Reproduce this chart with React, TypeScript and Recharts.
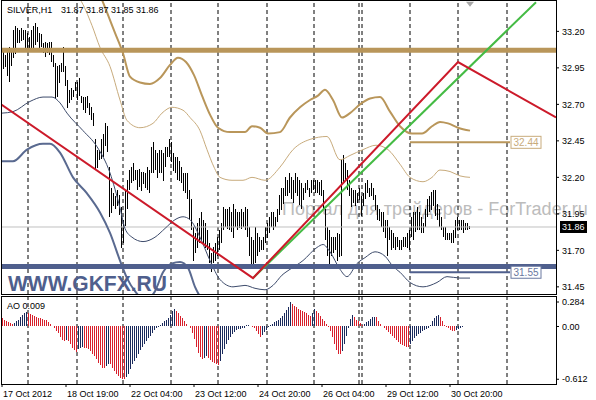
import { ComposedChart, Bar, Line, XAxis, YAxis, ReferenceLine, ReferenceDot } from 'recharts';

// H1 bars, one per hour (high / low)
const highs = [
  33.05, 33.07, 33.04, 33.07, 33.09, 33.07, 33.21, 33.24, 33.22, 33.21,
  33.22, 33.21, 33.21, 33.19, 33.16, 33.21, 33.24, 33.26, 33.23, 33.19,
  33.18, 33.12, 33.13, 33.12, 33.13, 33.13, 33.04, 32.98, 32.96, 32.97,
  32.98, 33.09, 32.96, 32.87, 32.80, 32.81, 32.80, 32.85, 32.85, 32.88,
  32.76, 32.75, 32.75, 32.76, 32.71, 32.68, 32.64, 32.46, 32.39, 32.39,
  32.46, 32.50, 32.57, 32.55, 32.27, 32.13, 32.09, 32.07, 32.11, 32.08,
  32.00, 31.91, 32.11, 32.18, 32.25, 32.27, 32.30, 32.25, 32.25, 32.26,
  32.24, 32.24, 32.23, 32.27, 32.25, 32.41, 32.44, 32.39, 32.37, 32.39,
  32.39, 32.37, 32.41, 32.41, 32.46, 32.44, 32.37, 32.34, 32.34, 32.31,
  32.27, 32.23, 32.23, 32.23, 32.11, 32.05, 31.86, 31.82, 31.89, 31.92,
  31.96, 31.91, 31.89, 31.84, 31.75, 31.68, 31.72, 31.75, 31.79, 31.84,
  31.89, 32.00, 31.98, 31.98, 32.00, 31.96, 32.02, 31.98, 31.96, 31.96,
  31.98, 31.96, 32.00, 31.98, 31.86, 31.79, 31.77, 31.86, 31.82, 31.79,
  31.77, 31.79, 31.86, 31.89, 31.93, 31.96, 31.96, 31.93, 31.98, 32.08,
  32.13, 32.13, 32.20, 32.18, 32.23, 32.20, 32.18, 32.23, 32.20, 32.18,
  32.16, 32.13, 32.16, 32.18, 32.13, 32.18, 32.18, 32.18, 32.18, 32.17,
  32.18, 32.11, 31.98, 31.86, 31.84, 31.79, 31.79, 31.79, 31.82, 31.81,
  32.32, 32.35, 32.30, 32.25, 32.18, 32.13, 32.11, 32.11, 32.09, 32.13,
  32.07, 32.09, 32.16, 32.18, 32.13, 32.16, 32.13, 32.08, 32.01, 31.98,
  31.96, 31.96, 31.91, 31.91, 31.86, 31.84, 31.82, 31.79, 31.79, 31.77,
  31.77, 31.79, 31.79, 31.82, 31.84, 31.93, 31.96, 31.96, 32.00, 31.96,
  31.93, 31.89, 31.98, 32.05, 32.07, 32.10, 32.11, 32.11, 32.02, 31.98,
  31.93, 31.86, 31.86, 31.82, 31.82, 31.82, 31.84, 31.91, 31.93, 31.91,
  31.91, 31.91, 31.89, 31.89, 31.87,
];

const lows = [
  32.92, 32.94, 32.96, 32.89, 32.85, 32.96, 33.02, 33.05, 33.12, 33.12,
  33.13, 33.14, 33.09, 33.09, 33.07, 33.06, 33.09, 33.11, 33.13, 33.07,
  33.09, 33.05, 33.03, 33.05, 33.04, 32.99, 32.96, 32.73, 32.75, 32.85,
  32.92, 32.92, 32.82, 32.68, 32.71, 32.73, 32.75, 32.79, 32.73, 32.76,
  32.71, 32.66, 32.64, 32.68, 32.63, 32.59, 32.55, 32.25, 32.27, 32.32,
  32.32, 32.34, 32.41, 32.37, 31.93, 31.96, 32.00, 31.98, 32.00, 31.94,
  31.72, 31.75, 31.86, 31.98, 32.11, 32.16, 32.18, 32.18, 32.11, 32.14,
  32.11, 32.16, 32.13, 32.11, 32.09, 32.23, 32.23, 32.25, 32.20, 32.23,
  32.23, 32.18, 32.27, 32.34, 32.34, 32.30, 32.25, 32.23, 32.18, 32.17,
  32.16, 32.11, 32.09, 32.05, 31.91, 31.84, 31.63, 31.68, 31.72, 31.75,
  31.77, 31.75, 31.72, 31.70, 31.61, 31.55, 31.61, 31.63, 31.66, 31.70,
  31.75, 31.84, 31.86, 31.84, 31.84, 31.82, 31.79, 31.86, 31.84, 31.85,
  31.84, 31.86, 31.84, 31.79, 31.66, 31.57, 31.59, 31.61, 31.66, 31.69,
  31.70, 31.70, 31.75, 31.79, 31.82, 31.86, 31.84, 31.86, 31.89, 31.94,
  31.98, 32.02, 32.07, 32.07, 32.09, 32.05, 32.02, 32.09, 32.07, 32.01,
  31.98, 32.05, 32.09, 32.11, 32.07, 32.09, 32.11, 32.09, 32.09, 32.08,
  32.07, 31.98, 31.77, 31.66, 31.59, 31.66, 31.68, 31.70, 31.63, 31.65,
  31.66, 32.16, 32.18, 32.11, 32.07, 32.00, 32.02, 32.00, 32.02, 32.05,
  31.93, 32.00, 32.05, 32.09, 32.07, 32.07, 32.05, 31.98, 31.91, 31.90,
  31.86, 31.82, 31.79, 31.66, 31.77, 31.70, 31.72, 31.70, 31.72, 31.70,
  31.70, 31.72, 31.72, 31.72, 31.70, 31.79, 31.77, 31.82, 31.84, 31.84,
  31.82, 31.82, 31.86, 31.93, 31.96, 31.98, 32.00, 31.93, 31.91, 31.86,
  31.84, 31.79, 31.77, 31.77, 31.77, 31.75, 31.75, 31.79, 31.84, 31.84,
  31.84, 31.82, 31.84, 31.84, 31.85,
];

// Awesome Oscillator, same bars
const aoValues = [
  0.097, 0.081, 0.066, 0.050, 0.035, 0.027, 0.039, 0.058, 0.081, 0.105,
  0.128, 0.151, 0.163, 0.159, 0.144, 0.132, 0.120, 0.109, 0.101, 0.097,
  0.089, 0.081, 0.070, 0.050, 0.027, 0.004, -0.019, -0.050, -0.081, -0.120,
  -0.159, -0.167, -0.159, -0.167, -0.206, -0.244, -0.275, -0.291, -0.264, -0.244,
  -0.237, -0.244, -0.252, -0.264, -0.283, -0.314, -0.341, -0.380, -0.419, -0.450,
  -0.477, -0.485, -0.458, -0.431, -0.438, -0.477, -0.516, -0.547, -0.574, -0.594,
  -0.605, -0.612, -0.590, -0.555, -0.497, -0.438, -0.400, -0.361, -0.314, -0.275,
  -0.237, -0.198, -0.167, -0.136, -0.105, -0.074, -0.043, -0.019, -0.004, 0.019,
  0.043, 0.066, 0.081, 0.097, 0.136, 0.182, 0.202, 0.182, 0.151, 0.124,
  0.097, 0.058, 0.027, 0.004, -0.019, -0.070, -0.147, -0.237, -0.303, -0.353,
  -0.380, -0.361, -0.345, -0.361, -0.384, -0.407, -0.423, -0.438, -0.446, -0.400,
  -0.322, -0.264, -0.206, -0.159, -0.120, -0.089, -0.066, -0.043, -0.031, -0.027,
  -0.019, -0.012, 0.012, 0.019, 0.004, -0.004, -0.019, -0.050, -0.089, -0.120,
  -0.097, -0.066, -0.035, -0.004, 0.012, 0.027, 0.050, 0.058, 0.074, 0.097,
  0.120, 0.151, 0.190, 0.229, 0.284, 0.260, 0.237, 0.221, 0.206, 0.190,
  0.175, 0.163, 0.151, 0.136, 0.124, 0.151, 0.198, 0.182, 0.151, 0.120,
  0.089, 0.058, 0.027, -0.004, -0.050, -0.120, -0.206, -0.275, -0.314, -0.322,
  -0.283, -0.206, -0.109, -0.012, 0.085, 0.136, 0.113, 0.074, 0.058, 0.035,
  0.012, 0.027, 0.050, 0.066, 0.089, 0.105, 0.113, 0.105, 0.066, 0.027,
  0.004, -0.019, -0.043, -0.066, -0.089, -0.113, -0.136, -0.159, -0.182, -0.198,
  -0.213, -0.225, -0.233, -0.237, -0.206, -0.167, -0.136, -0.113, -0.089, -0.074,
  -0.058, -0.043, -0.027, -0.012, 0.019, 0.058, 0.097, 0.120, 0.128, 0.105,
  0.058, 0.019, -0.004, -0.019, -0.035, -0.050, -0.058, -0.043, -0.027, -0.012,
  -0.002, 0.004, 0.008, 0.011, 0.009,
];

const lastQuote = [31.87, 31.87, 31.85, 31.86]; // O H L C

const timeTicks = [0, 32, 64, 96, 128, 160, 192, 224];
const timeLabels = ['17 Oct 2012', '18 Oct 19:00', '22 Oct 04:00', '23 Oct 12:00', '24 Oct 20:00', '26 Oct 04:00', '29 Oct 12:00', '30 Oct 20:00'];
const dayLines = [13, 37.5, 60.5, 84.5, 108, 132.5, 156, 178.5, 180, 204, 228, 252.5];
const priceTicks = [33.2, 32.95, 32.7, 32.45, 32.2, 31.95, 31.7, 31.45];
const aoTicks = [0.284, 0, -0.612];

// envelope bands (bar position, price)
const upperOuterAt = [47, 52.5, 56.5, 60.5, 64, 69, 74, 79, 84, 88, 92, 96, 100, 104, 108, 114, 121.5, 125, 129, 133, 139, 144, 149, 154, 158, 161.5, 165.5, 170, 174, 179, 184, 189, 194, 199, 205, 210, 215, 219, 223, 228, 234];
const upperOuter = [33.52, 33.33, 33.19, 33.05, 32.89, 32.85, 32.84, 32.88, 32.97, 33.02, 32.99, 32.90, 32.76, 32.63, 32.54, 32.51, 32.51, 32.55, 32.54, 32.50, 32.51, 32.61, 32.68, 32.73, 32.76, 32.80, 32.73, 32.61, 32.64, 32.70, 32.74, 32.75, 32.65, 32.55, 32.50, 32.50, 32.55, 32.58, 32.57, 32.54, 32.52];
const upperInnerAt = [35, 39, 45, 49, 54, 59, 62.5, 69, 75.5, 80, 85, 90.5, 94, 99, 102.5, 106, 109, 115, 120.5, 125, 131.5, 139, 145.5, 154, 162.5, 169, 174, 180.5, 187, 193, 199, 204, 210.5, 215, 219, 224, 229, 234];
const upperInner = [33.48, 33.42, 33.24, 33.09, 32.96, 32.73, 32.59, 32.54, 32.57, 32.64, 32.68, 32.66, 32.61, 32.52, 32.39, 32.27, 32.20, 32.18, 32.18, 32.20, 32.18, 32.27, 32.39, 32.46, 32.48, 32.32, 32.35, 32.39, 32.42, 32.39, 32.29, 32.20, 32.17, 32.20, 32.25, 32.24, 32.21, 32.20];
const lowerInnerAt = [0, 5.5, 14, 20.5, 25, 29, 32.5, 40.5, 47.5, 54, 59, 61.5, 65, 70.5, 76.5, 81.5, 86.5, 90.5, 94, 99, 104, 109, 115.5, 121.5, 126.5, 131.5, 135.5, 140, 144, 150.5, 157.5, 160.5, 164, 169, 172.5, 177.5, 181.5, 186.5, 191.5, 195.5, 199, 204, 210.5, 217.5, 222.5, 229, 234];
const lowerInner = [32.64, 32.65, 32.72, 32.75, 32.75, 32.71, 32.64, 32.52, 32.41, 32.23, 31.99, 31.85, 31.79, 31.76, 31.79, 31.85, 31.91, 31.93, 31.91, 31.79, 31.63, 31.50, 31.45, 31.46, 31.44, 31.43, 31.46, 31.53, 31.57, 31.63, 31.72, 31.74, 31.69, 31.57, 31.52, 31.61, 31.65, 31.69, 31.66, 31.59, 31.55, 31.48, 31.45, 31.48, 31.52, 31.51, 31.51];
const lowerOuterAt = [0, 5.5, 12.5, 20.5, 24, 29, 35.5, 42.5, 49, 54, 59, 62.5, 66.5, 71.5, 76.5, 80.5, 85, 89, 93, 96.5, 100.5];
const lowerOuter = [32.31, 32.31, 32.39, 32.43, 32.43, 32.37, 32.20, 32.09, 31.96, 31.82, 31.63, 31.51, 31.42, 31.36, 31.42, 31.55, 31.61, 31.62, 31.58, 31.45, 31.35];

// drawn objects
const resistance = 33.07;
const support = 31.59;
const levelStart = 204;
const levelEnd = 254;
const levelValues = [32.44, 31.55];
const redTrendAt = [-0.5, 125.5, 228, 277];
const redTrend = [32.70, 31.51, 32.99, 32.61];
const greenTrendAt = [125.5, 267];
const greenTrend = [31.51, 33.40];

const TAN = '#b9965a';
const SLATE = '#4f5f8d';
const AO_UP = '#1a2a5c';
const AO_DOWN = '#d8202c';
const FONT = '"Liberation Sans", Arial, sans-serif';

const priceRows = highs.map((h, i) => ({ i, range: [lows[i], h] }));
const aoRows = aoValues.map((v, i) => ({ i, ao: v }));
const pts = (at: number[], vals: number[]) => at.map((i, k) => ({ i, v: vals[k] }));

const RangeStick = (props: any) => {
  const { x, y, width, height } = props;
  const top = Math.round(Math.min(y, y + height));
  const h = Math.max(1, Math.round(Math.abs(height)));
  return <rect x={Math.floor(x + width / 2)} y={top} width={1} height={h} fill="#000" />;
};

const TimeTick = (props: any) => {
  const { x, y, payload } = props;
  const k = timeTicks.indexOf(payload.value);
  return (
    <text x={x + 1} y={y + 8} fontSize={9} fill="#000" textAnchor="start">
      {timeLabels[k]}
    </text>
  );
};

const levelBox = (color: string, text: string) => (props: any) => {
  const { cx, cy } = props;
  return (
    <g>
      <rect x={cx - 15} y={cy - 6} width={30} height={12} fill="#fff" stroke={color} />
      <text x={cx} y={cy + 4} fontSize={10} fill={color} textAnchor="middle">{text}</text>
    </g>
  );
};

const priceBox = (props: any) => {
  const { cx, cy } = props;
  return (
    <g>
      <rect x={cx + 4} y={cy - 6} width={27} height={12} fill="#000" />
      <text x={cx + 6} y={cy + 3.5} fontSize={9} fill="#fff">{lastQuote[3].toFixed(2)}</text>
    </g>
  );
};

const shiftMark = (props: any) => {
  const { cx, cy } = props;
  return <polygon points={`${cx - 4},${cy - 2} ${cx + 4},${cy - 2} ${cx},${cy + 3}`} fill="#a8a8a8" />;
};

export default function App() {
  return (
    <div style={{ position: 'absolute', left: 0, top: 0, width: 596, height: 400, background: '#fff', overflow: 'hidden', fontFamily: FONT }}>
      <svg width={596} height={400} style={{ position: 'absolute', left: 0, top: 0 }}>
        <text x={282} y={215} fontSize={18} fill="#bcbcbc">Портал для трейдеров - ForTrader.ru</text>
      </svg>

      <div style={{ position: 'absolute', left: 0, top: 0 }}>
        <ComposedChart width={596} height={295} data={priceRows} margin={{ top: 1, right: 0, bottom: 1, left: 1 }}>
          <XAxis type="number" dataKey="i" domain={[-0.5, 277]} hide allowDataOverflow />
          <YAxis
            orientation="right"
            width={40}
            domain={[31.401, 33.408]}
            allowDataOverflow
            ticks={priceTicks}
            interval={0}
            tickFormatter={(v: number) => v.toFixed(2)}
            axisLine={false}
            tickSize={3}
            tickMargin={3}
            stroke="#000"
            tick={{ fontSize: 9, fill: '#000' }}
          />
          {dayLines.map((d) => (
            <ReferenceLine key={d} x={d} stroke="#000" strokeDasharray="4 3" />
          ))}
          <ReferenceLine y={lastQuote[3]} stroke="#c0c0c0" />
          <Bar dataKey="range" barSize={1} fill="#000" shape={RangeStick} isAnimationActive={false} />
          <Line data={pts(upperOuterAt, upperOuter)} dataKey="v" type="monotone" stroke={TAN} strokeWidth={2} dot={false} isAnimationActive={false} />
          <Line data={pts(upperInnerAt, upperInner)} dataKey="v" type="monotone" stroke="#c8ab7c" strokeWidth={1} dot={false} isAnimationActive={false} />
          <Line data={pts(lowerInnerAt, lowerInner)} dataKey="v" type="monotone" stroke="#3d4b6b" strokeWidth={1} dot={false} isAnimationActive={false} />
          <Line data={pts(lowerOuterAt, lowerOuter)} dataKey="v" type="monotone" stroke="#5a6a90" strokeWidth={2} dot={false} isAnimationActive={false} />
          <ReferenceLine y={resistance} stroke={TAN} strokeWidth={5} />
          <ReferenceLine y={support} stroke={SLATE} strokeWidth={5} />
          <ReferenceLine segment={[{ x: levelStart, y: levelValues[0] }, { x: levelEnd, y: levelValues[0] }]} stroke={TAN} strokeWidth={2} />
          <ReferenceLine segment={[{ x: levelStart, y: levelValues[1] }, { x: levelEnd, y: levelValues[1] }]} stroke={SLATE} strokeWidth={2} />
          <ReferenceDot x={262} y={levelValues[0]} shape={levelBox('#c8ab7c', levelValues[0].toFixed(2))} />
          <ReferenceDot x={262} y={levelValues[1]} shape={levelBox('#6a78a0', levelValues[1].toFixed(2))} />
          <Line data={pts(greenTrendAt, greenTrend)} dataKey="v" type="linear" stroke="#44bb44" strokeWidth={2} dot={false} isAnimationActive={false} />
          <Line data={pts(redTrendAt, redTrend)} dataKey="v" type="linear" stroke="#cc1a2a" strokeWidth={2} dot={false} isAnimationActive={false} />
          <ReferenceDot x={277} y={lastQuote[3]} shape={priceBox} />
          <ReferenceDot x={highs.length - 1} y={33.39} shape={shiftMark} />
        </ComposedChart>
      </div>

      <div style={{ position: 'absolute', left: 0, top: 296 }}>
        <ComposedChart width={596} height={104} data={aoRows} margin={{ top: 1, right: 0, bottom: 0, left: 1 }}>
          <XAxis
            type="number"
            dataKey="i"
            domain={[-0.5, 277]}
            allowDataOverflow
            ticks={timeTicks}
            interval={0}
            height={16}
            axisLine={false}
            tickSize={3}
            tickMargin={2}
            stroke="#000"
            tick={TimeTick}
          />
          <YAxis
            orientation="right"
            width={40}
            domain={[-0.667, 0.342]}
            allowDataOverflow
            ticks={aoTicks}
            interval={0}
            tickFormatter={(v: number) => (v === 0 ? '0.00' : v.toFixed(3))}
            axisLine={false}
            tickSize={3}
            tickMargin={3}
            stroke="#000"
            tick={{ fontSize: 9, fill: '#000' }}
          />
          {dayLines.map((d) => (
            <ReferenceLine key={d} x={d} stroke="#000" strokeDasharray="4 3" />
          ))}
          {/* AO histogram: each bar from zero to its value, navy when rising, red when falling */}
          {aoValues.map((v, i) => (
            <ReferenceLine
              key={`ao${i}`}
              segment={[{ x: i, y: 0 }, { x: i, y: v }]}
              stroke={i > 0 && v >= aoValues[i - 1] ? AO_UP : AO_DOWN}
              strokeWidth={1}
              shapeRendering="crispEdges"
            />
          ))}
        </ComposedChart>
      </div>

      <div style={{ position: 'absolute', left: 1, top: 0, width: 556, height: 295, border: '1px solid #000', boxSizing: 'border-box', pointerEvents: 'none' }} />
      <div style={{ position: 'absolute', left: 1, top: 296, width: 556, height: 89, border: '1px solid #000', boxSizing: 'border-box', pointerEvents: 'none' }} />

      <svg width={596} height={400} style={{ position: 'absolute', left: 0, top: 0, pointerEvents: 'none' }}>
        <text x={7} y={13} fontSize={9} fill="#000">SILVER,H1</text>
        <text x={61} y={13} fontSize={9} fill="#000">{lastQuote.map((v) => v.toFixed(2)).join(' ')}</text>
        <text x={7} y={309} fontSize={9} fill="#000">{`AO ${aoValues[aoValues.length - 1].toFixed(3)}`}</text>
        <text x={8} y={291} fontSize={22} fontWeight="bold" fill={SLATE} textLength={159} lengthAdjust="spacingAndGlyphs">WWW.GKFX.RU</text>
      </svg>
    </div>
  );
}
